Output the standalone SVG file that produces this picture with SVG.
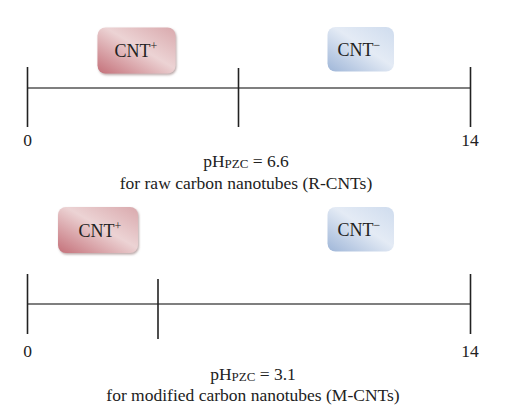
<svg xmlns="http://www.w3.org/2000/svg" width="507" height="415" viewBox="0 0 507 415">
<style>
text{font-family:"Liberation Serif","Times New Roman",serif;fill:#222;}
.lbl{font-size:17.5px;text-anchor:middle;}
.box{font-size:18px;text-anchor:middle;}
.ax{stroke:#555;stroke-width:1.6;fill:none;}
.tk{stroke:#222;stroke-width:1.6;fill:none;}
</style>
<defs>
<linearGradient id="pink" x1="0" y1="1" x2="1" y2="0">
<stop offset="0" stop-color="#c47079"/>
<stop offset="0.55" stop-color="#ecd3d4"/>
<stop offset="1" stop-color="#d9a9ad"/>
</linearGradient>
<linearGradient id="blue" x1="0" y1="1" x2="1" y2="0">
<stop offset="0" stop-color="#9fb6d8"/>
<stop offset="0.55" stop-color="#e4ebf5"/>
<stop offset="1" stop-color="#cfdcee"/>
</linearGradient>
<filter id="sh" x="-10%" y="-10%" width="130%" height="130%">
<feDropShadow dx="1" dy="1.5" stdDeviation="1" flood-color="#8a6a6a" flood-opacity="0.6"/>
</filter>
</defs>
<g id="connectors">
<line class="ax" x1="27.5" y1="88" x2="470.5" y2="88"/>
<line class="tk" x1="27.5" y1="67" x2="27.5" y2="127"/>
<line class="tk" x1="238.5" y1="68" x2="238.5" y2="127"/>
<line class="tk" x1="470.5" y1="67" x2="470.5" y2="127"/>
<line class="ax" x1="27.5" y1="304" x2="470.5" y2="304"/>
<line class="tk" x1="27.5" y1="274" x2="27.5" y2="334"/>
<line class="tk" x1="158" y1="279" x2="158" y2="339"/>
<line class="tk" x1="470.5" y1="274" x2="470.5" y2="334"/>
</g>
<g id="cnt-plus-top">
<rect x="97.5" y="27.5" width="78" height="46" rx="8" fill="url(#pink)" filter="url(#sh)"/>
<text class="box" x="136" y="57">CNT<tspan font-size="12" dy="-7">+</tspan></text>
</g>
<g id="cnt-minus-top">
<rect x="327.5" y="27" width="66.5" height="44.5" rx="8" fill="url(#blue)"/>
<text class="box" x="359" y="55.5">CNT<tspan font-size="12" dy="-7">−</tspan></text>
</g>
<g id="cnt-plus-bottom">
<rect x="58" y="207" width="80" height="46" rx="8" fill="url(#pink)" filter="url(#sh)"/>
<text class="box" x="100" y="237">CNT<tspan font-size="12" dy="-7">+</tspan></text>
</g>
<g id="cnt-minus-bottom">
<rect x="327.5" y="207" width="66.5" height="44.5" rx="8" fill="url(#blue)"/>
<text class="box" x="359" y="235.5">CNT<tspan font-size="12" dy="-7">−</tspan></text>
</g>
<g id="labels">
<text class="lbl" x="27.5" y="146">0</text>
<text class="lbl" x="470" y="146">14</text>
<text class="lbl" x="246" y="167">pH<tspan font-size="13" dy="1">PZC</tspan><tspan dy="-1"> = 6.6</tspan></text>
<text class="lbl" x="246" y="189">for raw carbon nanotubes (R-CNTs)</text>
<text class="lbl" x="27.5" y="357">0</text>
<text class="lbl" x="470" y="357">14</text>
<text class="lbl" x="253" y="380">pH<tspan font-size="13" dy="1">PZC</tspan><tspan dy="-1"> = 3.1</tspan></text>
<text class="lbl" x="253" y="401">for modified carbon nanotubes (M-CNTs)</text>
</g>
</svg>
